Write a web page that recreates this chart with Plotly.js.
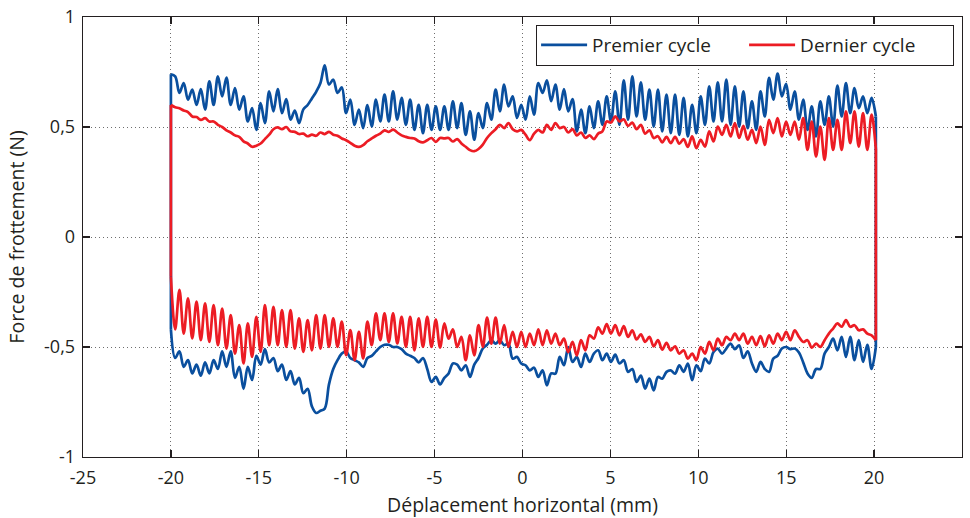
<!DOCTYPE html>
<html>
<head>
<meta charset="utf-8">
<script src="https://cdn.plot.ly/plotly-3.0.1.min.js"></script>
<style>
  html, body { margin: 0; padding: 0; background: #fff; }
  #friction-chart { width: 970px; height: 518px; }
</style>
</head>
<body>
<div id="friction-chart"></div>
<script>
const premierTop = [
  0.74, 0.73, 0.655, 0.70, 0.624, 0.67, 0.60, 0.672, 0.579, 0.708,
  0.60, 0.73, 0.639, 0.725, 0.60, 0.677, 0.579, 0.639, 0.525, 0.586,
  0.487, 0.609, 0.518, 0.662, 0.571, 0.672, 0.563, 0.627, 0.533, 0.575,
  0.518, 0.58, 0.60, 0.63, 0.66, 0.70, 0.78, 0.693, 0.715, 0.655,
  0.68, 0.563, 0.624, 0.51, 0.579, 0.495, 0.60, 0.502, 0.624, 0.525,
  0.647, 0.525, 0.662, 0.533, 0.632, 0.51, 0.624, 0.487, 0.601, 0.472,
  0.601, 0.487, 0.594, 0.487, 0.594, 0.487, 0.617, 0.495, 0.609, 0.464,
  0.571, 0.442, 0.563, 0.495, 0.609, 0.533, 0.670, 0.571, 0.693, 0.594,
  0.639, 0.541, 0.601, 0.533, 0.639, 0.556, 0.700, 0.655, 0.712, 0.617,
  0.693, 0.579, 0.672, 0.571, 0.627, 0.480, 0.579, 0.472, 0.594, 0.495,
  0.617, 0.510, 0.639, 0.525, 0.662, 0.510, 0.712, 0.533, 0.730, 0.548,
  0.703, 0.533, 0.670, 0.502, 0.670, 0.480, 0.647, 0.472, 0.647, 0.464,
  0.632, 0.457, 0.601, 0.472, 0.639, 0.510, 0.685, 0.525, 0.703, 0.525,
  0.715, 0.510, 0.685, 0.502, 0.662, 0.495, 0.617, 0.487, 0.662, 0.548,
  0.723, 0.624, 0.743, 0.639, 0.696, 0.579, 0.662, 0.533, 0.624, 0.487,
  0.594, 0.457, 0.617, 0.510, 0.639, 0.502, 0.688, 0.548, 0.700, 0.563,
  0.677, 0.586, 0.639, 0.563, 0.632, 0.548
];
const premierBottom = [
  -0.42, -0.55, -0.52, -0.59, -0.56, -0.62, -0.58, -0.63, -0.57, -0.62,
  -0.56, -0.60, -0.52, -0.59, -0.52, -0.64, -0.59, -0.69, -0.59, -0.65,
  -0.54, -0.58, -0.51, -0.57, -0.55, -0.61, -0.58, -0.65, -0.61, -0.67,
  -0.64, -0.71, -0.69, -0.77, -0.80, -0.79, -0.78, -0.67, -0.60, -0.56,
  -0.53, -0.52, -0.55, -0.56, -0.57, -0.59, -0.55, -0.54, -0.52, -0.50,
  -0.49, -0.49, -0.50, -0.50, -0.51, -0.53, -0.54, -0.55, -0.57, -0.55,
  -0.60, -0.659, -0.636, -0.67, -0.64, -0.62, -0.575, -0.58, -0.606, -0.583,
  -0.636, -0.58, -0.55, -0.507, -0.49, -0.469, -0.485, -0.469, -0.492, -0.485,
  -0.553, -0.545, -0.575, -0.583, -0.606, -0.594, -0.636, -0.606, -0.674, -0.62,
  -0.621, -0.545, -0.583, -0.50, -0.568, -0.545, -0.591, -0.53, -0.568, -0.53,
  -0.515, -0.56, -0.53, -0.568, -0.535, -0.575, -0.56, -0.613, -0.60, -0.659,
  -0.63, -0.689, -0.644, -0.697, -0.636, -0.644, -0.613, -0.606, -0.621, -0.583,
  -0.613, -0.575, -0.651, -0.583, -0.61, -0.553, -0.575, -0.523, -0.507, -0.53,
  -0.507, -0.485, -0.51, -0.492, -0.55, -0.52, -0.575, -0.613, -0.568, -0.60,
  -0.613, -0.553, -0.54, -0.507, -0.50, -0.51, -0.507, -0.525, -0.57, -0.62,
  -0.64, -0.60, -0.60, -0.53, -0.50, -0.462, -0.515, -0.454, -0.545, -0.454,
  -0.56, -0.469, -0.568, -0.49, -0.60, -0.50
];
const dernierTop = [
  0.60, 0.59, 0.585, 0.575, 0.568, 0.548, 0.545, 0.532, 0.54, 0.525,
  0.525, 0.51, 0.50, 0.485, 0.475, 0.462, 0.455, 0.435, 0.425, 0.41,
  0.415, 0.425, 0.445, 0.465, 0.49, 0.498, 0.49, 0.50, 0.48, 0.478,
  0.468, 0.47, 0.458, 0.465, 0.46, 0.475, 0.468, 0.478, 0.465, 0.46,
  0.448, 0.44, 0.428, 0.415, 0.41, 0.418, 0.435, 0.448, 0.46, 0.47,
  0.485, 0.478, 0.488, 0.475, 0.462, 0.455, 0.45, 0.448, 0.435, 0.43,
  0.44, 0.45, 0.432, 0.45, 0.448, 0.45, 0.434, 0.445, 0.425, 0.41,
  0.395, 0.39, 0.40, 0.42, 0.45, 0.472, 0.49, 0.51, 0.495, 0.518,
  0.49, 0.48, 0.487, 0.465, 0.44, 0.47, 0.487, 0.475, 0.51, 0.487,
  0.518, 0.495, 0.50, 0.475, 0.49, 0.462, 0.475, 0.45, 0.462, 0.445,
  0.47, 0.48, 0.525, 0.52, 0.548, 0.525, 0.535, 0.505, 0.52, 0.49,
  0.51, 0.47, 0.485, 0.45, 0.458, 0.43, 0.455, 0.427, 0.455, 0.424,
  0.445, 0.41, 0.457, 0.404, 0.442, 0.411, 0.48, 0.434, 0.502, 0.464,
  0.510, 0.457, 0.518, 0.45, 0.505, 0.442, 0.487, 0.427, 0.502, 0.419,
  0.533, 0.472, 0.541, 0.457, 0.525, 0.464, 0.525, 0.442, 0.541, 0.396,
  0.525, 0.366, 0.502, 0.351, 0.541, 0.396, 0.533, 0.396, 0.571, 0.427,
  0.571, 0.411, 0.563, 0.396, 0.556, 0.40
];
const dernierBottom = [
  -0.18, -0.42, -0.24, -0.439, -0.279, -0.461, -0.294, -0.469, -0.302, -0.477,
  -0.309, -0.492, -0.325, -0.507, -0.355, -0.530, -0.400, -0.575, -0.393, -0.545,
  -0.363, -0.522, -0.309, -0.492, -0.317, -0.492, -0.332, -0.499, -0.332, -0.507,
  -0.370, -0.522, -0.378, -0.515, -0.355, -0.507, -0.355, -0.499, -0.370, -0.499,
  -0.385, -0.537, -0.423, -0.560, -0.431, -0.552, -0.385, -0.492, -0.347, -0.469,
  -0.347, -0.477, -0.347, -0.484, -0.363, -0.499, -0.363, -0.515, -0.370, -0.499,
  -0.363, -0.500, -0.375, -0.503, -0.393, -0.462, -0.42, -0.500, -0.454, -0.560,
  -0.447, -0.538, -0.401, -0.500, -0.366, -0.485, -0.366, -0.485, -0.401, -0.500,
  -0.431, -0.500, -0.431, -0.500, -0.439, -0.492, -0.42, -0.492, -0.424, -0.485,
  -0.439, -0.492, -0.462, -0.523, -0.477, -0.538, -0.469, -0.515, -0.447, -0.462,
  -0.411, -0.439, -0.396, -0.439, -0.401, -0.447, -0.405, -0.454, -0.424, -0.466,
  -0.442, -0.477, -0.454, -0.497, -0.469, -0.512, -0.481, -0.515, -0.497, -0.530,
  -0.515, -0.553, -0.53, -0.560, -0.500, -0.530, -0.477, -0.515, -0.462, -0.492,
  -0.454, -0.469, -0.439, -0.469, -0.439, -0.485, -0.454, -0.492, -0.451, -0.497,
  -0.447, -0.485, -0.439, -0.469, -0.431, -0.469, -0.424, -0.454, -0.477, -0.469,
  -0.503, -0.485, -0.500, -0.469, -0.439, -0.416, -0.393, -0.408, -0.378, -0.408,
  -0.401, -0.424, -0.42, -0.439, -0.447, -0.469
];

const cycleNames = ["Premier cycle", "Dernier cycle"];
const xTicks = [-25, -20, -15, -10, -5, 0, 5, 10, 15, 20, 25];
const xTickText = ["-25", "-20", "-15", "-10", "-5", "0", "5", "10", "15", "20", "25"];
const yTicks = [-1, -0.5, 0, 0.5, 1];
const yTickText = ["-1", "-0,5", "0", "0,5", "1"];

// stroke ends of the loop in mm
const xStart = -20;
const xEnd = 20.1;

function positions(n) {
  const step = (xEnd - xStart) / (n - 1);
  return Array.from({ length: n }, (_, i) => xStart + i * step);
}

function cycleTraces(name, color, top, bottom) {
  const line = { color: color, width: 2.7, shape: "spline", smoothing: 1 };
  const last = top.length - 1;
  return [
    {
      type: "scatter", mode: "lines", name: name, legendgroup: name,
      x: positions(top.length), y: top, line: line,
      hoverinfo: "x+y",
    },
    {
      type: "scatter", mode: "lines", name: name, legendgroup: name, showlegend: false,
      x: positions(bottom.length), y: bottom, line: line,
      hoverinfo: "x+y",
    },
    {
      // the two reversal strokes closing the loop
      type: "scatter", mode: "lines", name: name, legendgroup: name, showlegend: false,
      x: [xStart, xStart, null, xEnd, xEnd],
      y: [top[0], bottom[0], null, top[last], bottom[bottom.length - 1]],
      line: { color: color, width: 2.7 },
      hoverinfo: "skip",
    },
  ];
}

const data = [
  ...cycleTraces(cycleNames[0], "#0a4f9e", premierTop, premierBottom),
  ...cycleTraces(cycleNames[1], "#ec1c24", dernierTop, dernierBottom),
];

const axisStyle = {
  showline: true,
  linecolor: "#231f20",
  linewidth: 1.3,
  mirror: "ticks",
  ticks: "inside",
  ticklen: 7,
  tickwidth: 1.2,
  tickcolor: "#231f20",
  showgrid: true,
  gridcolor: "#6e6e6e",
  gridwidth: 1,
  griddash: "1px,3px",
  zeroline: false,
  tickfont: { size: 18, color: "#231f20" },
};

const layout = {
  width: 970,
  height: 518,
  margin: { l: 83, r: 8, t: 17, b: 61 },
  paper_bgcolor: "#fff",
  plot_bgcolor: "#fff",
  font: { family: "Open Sans, sans-serif", color: "#231f20" },
  xaxis: {
    ...axisStyle,
    range: [-25, 25],
    tickmode: "array",
    tickvals: xTicks,
    ticktext: xTickText,
    ticklabelstandoff: 4,
    title: { text: "Déplacement horizontal (mm)", font: { size: 19.5 }, standoff: 10 },
  },
  yaxis: {
    ...axisStyle,
    range: [-1, 1],
    tickmode: "array",
    tickvals: yTicks,
    ticktext: yTickText,
    ticklabelstandoff: 3,
    title: { text: "Force de frottement (N)", font: { size: 19.5 }, standoff: 14 },
  },
  legend: {
    orientation: "h",
    x: 0.991,
    xanchor: "right",
    y: 0.982,
    yanchor: "top",
    bgcolor: "#fff",
    bordercolor: "#231f20",
    borderwidth: 1.2,
    font: { size: 19, color: "#231f20" },
    itemwidth: 46,
    entrywidth: 147,
    entrywidthmode: "pixels",
  },
  showlegend: true,
};

Plotly.newPlot("friction-chart", data, layout, { displayModeBar: false, staticPlot: true });
</script>
</body>
</html>
